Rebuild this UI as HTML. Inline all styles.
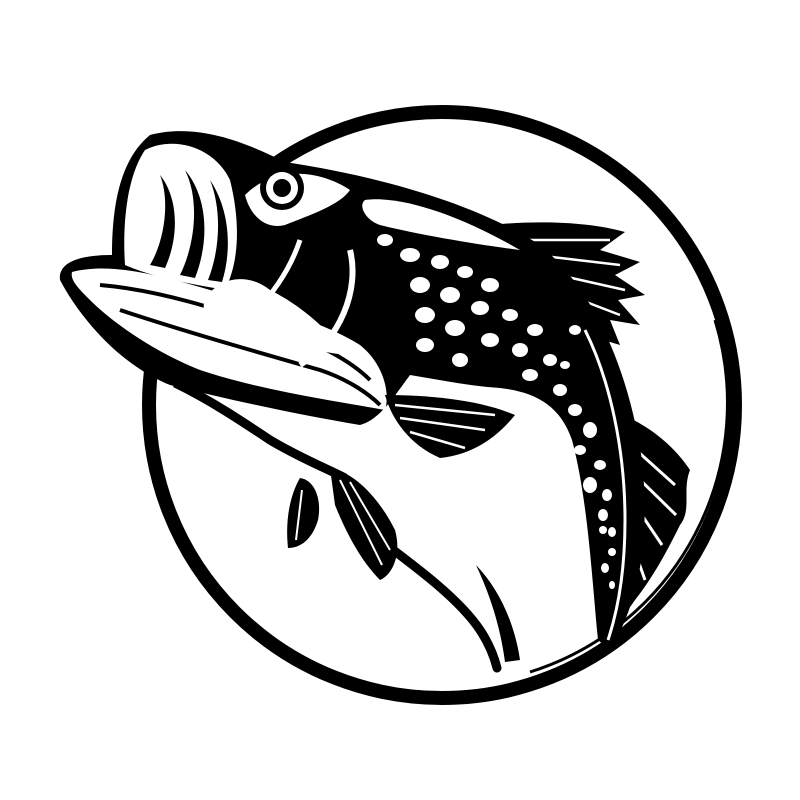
<!DOCTYPE html>
<html><head><style>html,body{margin:0;padding:0;background:#fff}svg{display:block}</style></head>
<body>
<svg width="800" height="800" viewBox="0 0 800 800" xmlns="http://www.w3.org/2000/svg">
<rect width="800" height="800" fill="#fff"/>
<circle cx="442" cy="405" r="293" fill="none" stroke="#000" stroke-width="14"/>
<path d="M530,672 A282,282 0 0 0 715,320" fill="none" stroke="#000" stroke-width="3"/>
<path d="M610,410 C640,420 670,440 690,470 C682,490 692,510 680,525 C670,545 655,575 635,600 C625,615 612,630 600,640 L595,450 Z" fill="#000"/>
<g stroke="#fff" stroke-width="3" fill="none">
<path d="M625,440 L675,485"/><path d="M625,465 L676,515"/><path d="M625,490 L662,545"/><path d="M622,515 L645,580"/>
</g>
<path d="M490,225 C540,220 590,222 625,232 L600,250 L640,262 L615,275 L645,295 L618,300 L640,325 L610,320 L620,345 L570,330 Z" fill="#000"/>
<g stroke="#fff" stroke-width="2.5" fill="none">
<path d="M520,240 L610,240"/><path d="M535,255 L620,265"/><path d="M545,272 L625,290"/><path d="M555,290 L620,315"/>
</g>
<path d="M150,135 C200,122 250,145 285,162 C370,175 470,200 540,245 C600,295 630,380 642,460 C650,540 640,600 610,650 L598,640 C592,580 588,500 572,440 C560,405 535,392 500,388 C470,386 440,380 410,375 C395,395 380,420 360,425 C300,415 230,400 170,385 C120,365 80,318 60,280 C58,262 80,255 112,255 C112,200 122,158 150,135 Z" fill="#000"/>
<path d="M175,383 C210,400 240,420 270,440 C300,458 330,470 345,478" stroke="#000" stroke-width="9" fill="none"/>
<path d="M380,540 C420,570 460,600 480,630 C490,645 495,660 497,668" stroke="#000" stroke-width="9" fill="none" stroke-linecap="round"/>
<path d="M476,565 C500,590 515,625 520,660 L505,662 C500,625 490,595 476,565 Z" fill="#000"/>
<path d="M72,272 C110,262 160,275 210,290 C260,305 320,320 360,345 C385,365 390,395 385,410 C330,400 260,390 200,370 C150,350 110,320 90,300 C78,288 70,280 72,272 Z" fill="#fff"/>
<path d="M100,285 C160,290 220,310 280,330 C320,345 350,360 370,380" stroke="#000" stroke-width="4" fill="none"/>
<path d="M120,310 C180,330 250,350 320,370 C350,380 370,395 380,405" stroke="#000" stroke-width="4" fill="none"/>
<path d="M145,150 C175,135 215,148 230,180 C240,220 240,260 225,290 C200,285 160,280 125,265 C122,220 128,175 145,150 Z" fill="#fff"/>
<g fill="#000">
<path d="M160,175 C170,200 165,240 150,265 L165,268 C178,240 180,200 160,175 Z"/>
<path d="M185,170 C200,200 195,245 180,275 L195,278 C208,245 210,200 185,170 Z"/>
<path d="M210,180 C222,210 220,250 208,280 L222,282 C232,250 230,210 210,180 Z"/>
</g>
<path d="M205,300 C215,280 245,270 270,290 C300,305 330,330 345,355 C310,350 260,340 225,330 C210,322 200,312 205,300 Z" fill="#fff"/>
<path d="M245,195 C275,165 320,170 350,190 C340,205 310,215 285,225 C265,230 250,215 245,195 Z" fill="#fff"/>
<circle cx="282" cy="188" r="22" fill="#000"/>
<circle cx="282" cy="188" r="16" fill="#fff"/>
<circle cx="282" cy="188" r="9" fill="#000"/>
<path d="M300,240 C290,270 270,300 245,320" stroke="#fff" stroke-width="5" fill="none"/>
<path d="M350,250 C360,290 340,340 300,365" stroke="#fff" stroke-width="6" fill="none"/>
<path d="M365,200 C400,195 460,215 520,250 C480,245 420,235 380,225 C365,220 358,205 365,200 Z" fill="#fff"/>
<path d="M585,330 C610,380 625,450 625,520 C625,570 618,610 608,640" stroke="#fff" stroke-width="3" fill="none"/>
<g fill="#fff">
<ellipse cx="385" cy="240" rx="8" ry="6"/><ellipse cx="410" cy="255" rx="10" ry="7"/><ellipse cx="440" cy="262" rx="9" ry="7"/><ellipse cx="465" cy="272" rx="8" ry="6"/><ellipse cx="490" cy="285" rx="9" ry="7"/>
<ellipse cx="420" cy="285" rx="10" ry="8"/><ellipse cx="450" cy="295" rx="10" ry="8"/><ellipse cx="480" cy="308" rx="9" ry="7"/><ellipse cx="510" cy="315" rx="8" ry="6"/><ellipse cx="535" cy="330" rx="8" ry="6"/>
<ellipse cx="425" cy="315" rx="10" ry="8"/><ellipse cx="455" cy="328" rx="10" ry="8"/><ellipse cx="490" cy="340" rx="9" ry="7"/><ellipse cx="520" cy="350" rx="8" ry="7"/><ellipse cx="550" cy="360" rx="7" ry="6"/>
<ellipse cx="425" cy="345" rx="9" ry="7"/><ellipse cx="460" cy="360" rx="8" ry="7"/><ellipse cx="530" cy="375" rx="8" ry="6"/><ellipse cx="560" cy="390" rx="7" ry="6"/>
<ellipse cx="575" cy="410" rx="7" ry="6"/><ellipse cx="590" cy="430" rx="7" ry="8"/><ellipse cx="580" cy="450" rx="6" ry="5"/><ellipse cx="600" cy="465" rx="6" ry="5"/>
<ellipse cx="590" cy="485" rx="7" ry="8"/><ellipse cx="607" cy="495" rx="5" ry="6"/><ellipse cx="603" cy="515" rx="5" ry="6"/><ellipse cx="612" cy="532" rx="4" ry="5"/>
<ellipse cx="603" cy="530" rx="4" ry="4"/><ellipse cx="612" cy="552" rx="4" ry="4"/><ellipse cx="605" cy="568" rx="4" ry="5"/><ellipse cx="612" cy="585" rx="3" ry="4"/>
<ellipse cx="575" cy="330" rx="6" ry="5"/><ellipse cx="565" cy="365" rx="5" ry="4"/>
</g>
<path d="M385,395 C430,395 480,400 515,415 C495,440 470,455 440,458 C410,445 392,420 385,395 Z" fill="#000"/>
<g stroke="#fff" stroke-width="2.5" fill="none"><path d="M395,405 L495,415"/><path d="M400,418 L485,430"/><path d="M410,432 L465,448"/></g>
<path d="M300,478 C315,480 322,500 318,520 C312,540 300,548 288,548 C285,520 290,495 300,478 Z" fill="#000"/>
<path d="M330,468 C355,472 380,500 395,530 C402,555 392,575 380,580 C360,560 345,530 335,505 Z" fill="#000"/>
<g stroke="#fff" stroke-width="2" fill="none"><path d="M302,490 L296,540"/><path d="M340,480 L382,565"/><path d="M350,482 L390,550"/></g>
</svg>
</body></html>
